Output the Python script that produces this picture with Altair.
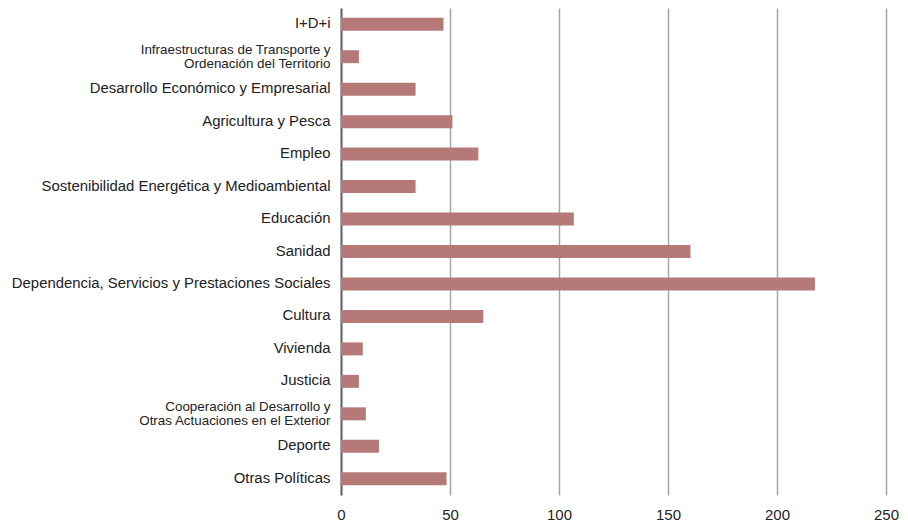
import altair as alt
import pandas as pd

categories = [
    "I+D+i",
    "Infraestructuras de Transporte y|Ordenación del Territorio",
    "Desarrollo Económico y Empresarial",
    "Agricultura y Pesca",
    "Empleo",
    "Sostenibilidad Energética y Medioambiental",
    "Educación",
    "Sanidad",
    "Dependencia, Servicios y Prestaciones Sociales",
    "Cultura",
    "Vivienda",
    "Justicia",
    "Cooperación al Desarrollo y|Otras Actuaciones en el Exterior",
    "Deporte",
    "Otras Políticas",
]
values = [47.0, 8.2, 34.2, 51.1, 63.0, 34.2, 106.8, 160.3, 217.4, 65.3, 10.0, 8.2, 11.4, 17.4, 48.4]
x_ticks = [0, 50, 100, 150, 200, 250]

df = pd.DataFrame({"categoria": categories, "valor": values})

FONT = "Liberation Sans"
TWO_LINE = "indexof(datum.value, '|') >= 0"

chart = alt.Chart(df).mark_bar(color="#b57a77", opacity=1).encode(
    x=alt.X(
        "valor:Q",
        scale=alt.Scale(domain=[0, 250], nice=False),
        axis=alt.Axis(
            values=x_ticks,
            title=None,
            grid=True,
            gridColor="#a6a6a6",
            gridWidth=1.5,
            domain=False,
            ticks=False,
            labelFont=FONT,
            labelFontSize=15,
            labelColor="#222222",
            labelPadding=12,
            labelFlush=False,
        ),
    ),
    y=alt.Y(
        "categoria:N",
        sort=categories,
        scale=alt.Scale(paddingInner=0.6, paddingOuter=0.3),
        axis=alt.Axis(
            title=None,
            domain=True,
            domainColor="#666666",
            domainWidth=2,
            ticks=False,
            labelFont=FONT,
            labelFontSize={"condition": {"test": TWO_LINE, "value": 13.4}, "value": 14.9},
            labelOffset={"condition": {"test": TWO_LINE, "value": -7}, "value": 0},
            labelLineHeight=14.5,
            labelColor="#222222",
            labelPadding=11,
            labelLimit=400,
            labelExpr="split(datum.label, '|')",
        ),
    ),
).properties(
    width=545,
    height=487,
    autosize=alt.AutoSizeParams(type="none"),
    padding={"left": 333, "top": 0, "right": 14, "bottom": 28},
).configure_view(stroke=None)

chart.save("out.html", embed_options={"renderer": "svg", "actions": False})
